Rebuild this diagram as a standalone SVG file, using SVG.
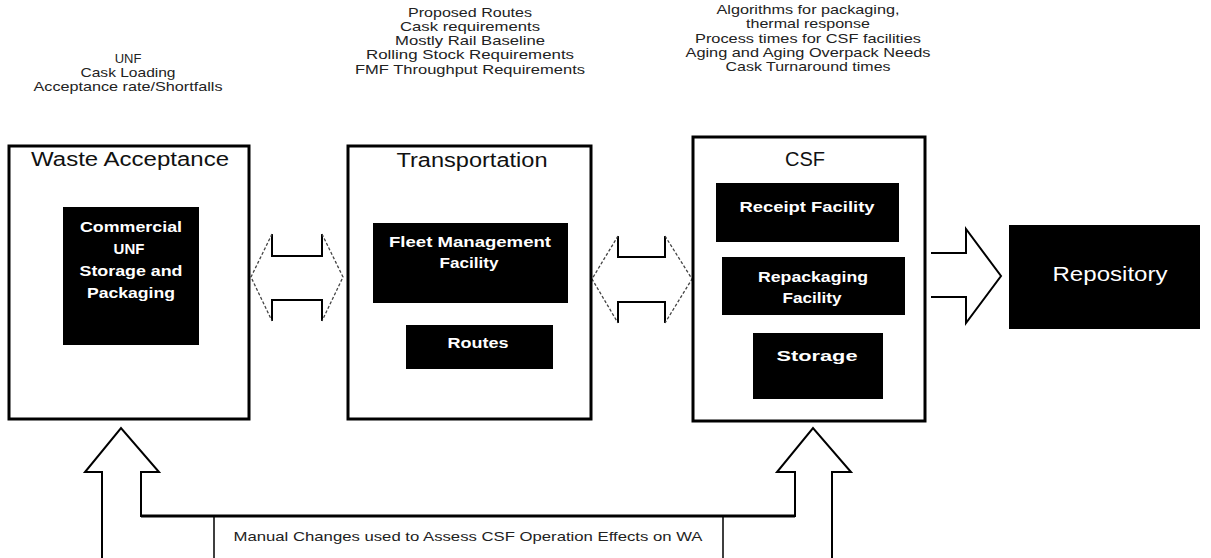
<svg xmlns="http://www.w3.org/2000/svg" width="1211" height="558" viewBox="0 0 1211 558">
<style>
.note{font-family:"Liberation Sans",Arial,sans-serif;font-size:13px;fill:#222;text-anchor:middle}
.title{font-family:"Liberation Sans",Arial,sans-serif;font-size:20px;fill:#111;text-anchor:middle}
.inner{font-family:"Liberation Sans",Arial,sans-serif;font-size:15px;font-weight:bold;fill:#fff;text-anchor:middle}
.frame{fill:#fff;stroke:#000;stroke-width:3}
.blk{fill:#000}
.solid{fill:none;stroke:#000;stroke-width:2}
.dash{fill:none;stroke:#444;stroke-width:1.3;stroke-dasharray:3 2}
</style>
<rect width="1211" height="558" fill="#fff"/>
<g id="notes-wa">
<text class="note" x="128" y="63">UNF</text>
<text class="note" x="128" y="77" textLength="95" lengthAdjust="spacingAndGlyphs">Cask Loading</text>
<text class="note" x="128" y="91" textLength="189" lengthAdjust="spacingAndGlyphs">Acceptance rate/Shortfalls</text>
</g>
<g id="notes-tr">
<text class="note" x="470" y="17" textLength="124" lengthAdjust="spacingAndGlyphs">Proposed Routes</text>
<text class="note" x="470" y="31" textLength="140" lengthAdjust="spacingAndGlyphs">Cask requirements</text>
<text class="note" x="470" y="45" textLength="150" lengthAdjust="spacingAndGlyphs">Mostly Rail Baseline</text>
<text class="note" x="470" y="59" textLength="208" lengthAdjust="spacingAndGlyphs">Rolling Stock Requirements</text>
<text class="note" x="470" y="74" textLength="230" lengthAdjust="spacingAndGlyphs">FMF Throughput Requirements</text>
</g>
<g id="notes-csf">
<text class="note" x="808" y="14" textLength="183" lengthAdjust="spacingAndGlyphs">Algorithms for packaging,</text>
<text class="note" x="808" y="28" textLength="124" lengthAdjust="spacingAndGlyphs">thermal response</text>
<text class="note" x="808" y="43" textLength="226" lengthAdjust="spacingAndGlyphs">Process times for CSF facilities</text>
<text class="note" x="808" y="57" textLength="245" lengthAdjust="spacingAndGlyphs">Aging and Aging Overpack Needs</text>
<text class="note" x="808" y="71" textLength="165" lengthAdjust="spacingAndGlyphs">Cask Turnaround times</text>
</g>
<g id="connectors">
<path class="solid" d="M272,234 L272,256 L322,256 L322,234 M272,321 L272,300 L322,300 L322,321"/>
<path class="dash" d="M272,234 L251,277 L272,321 M322,234 L343,277 L322,321"/>
<path class="solid" d="M618,236 L618,257 L665,257 L665,236 M618,323 L618,302 L665,302 L665,323"/>
<path class="dash" d="M618,236 L592,279 L618,323 M665,236 L692,279 L665,323"/>
<path class="solid" d="M931,253 L966,253 L966,229 L1001,276 L966,323 L966,297 L931,297"/>
<path class="solid" d="M102,560 L102,472 L85,472 L121,428 L159,472 L141,472 L141,516 L795,516 L795,472 L777,472 L813,428 L851,472 L832,472 L832,560"/>
<path d="M141,516 L795,516" stroke="#000" stroke-width="3"/>
</g>
<g id="wa">
<rect class="frame" x="9" y="146" width="240" height="273"/>
<text class="title" x="130" y="166" textLength="198" lengthAdjust="spacingAndGlyphs">Waste Acceptance</text>
<rect class="blk" x="63" y="207" width="136" height="138"/>
<text class="inner" x="131" y="232" textLength="102" lengthAdjust="spacingAndGlyphs">Commercial</text>
<text class="inner" x="129" y="254">UNF</text>
<text class="inner" x="131" y="276" textLength="103" lengthAdjust="spacingAndGlyphs">Storage and</text>
<text class="inner" x="131" y="298" textLength="88" lengthAdjust="spacingAndGlyphs">Packaging</text>
</g>
<g id="transport">
<rect class="frame" x="348" y="146" width="243" height="273"/>
<text class="title" x="472" y="167" textLength="151" lengthAdjust="spacingAndGlyphs">Transportation</text>
<rect class="blk" x="373" y="223" width="195" height="80"/>
<text class="inner" x="470" y="247" textLength="162" lengthAdjust="spacingAndGlyphs">Fleet Management</text>
<text class="inner" x="469" y="268" textLength="59" lengthAdjust="spacingAndGlyphs">Facility</text>
<rect class="blk" x="406" y="325" width="147" height="44"/>
<text class="inner" x="478" y="348" textLength="61" lengthAdjust="spacingAndGlyphs">Routes</text>
</g>
<g id="csf">
<rect class="frame" x="693" y="137" width="232" height="284"/>
<text class="title" x="805" y="166" font-size="21">CSF</text>
<rect class="blk" x="716" y="183" width="183" height="59"/>
<text class="inner" x="807" y="212" textLength="135" lengthAdjust="spacingAndGlyphs">Receipt Facility</text>
<rect class="blk" x="722" y="257" width="183" height="58"/>
<text class="inner" x="813" y="282" textLength="110" lengthAdjust="spacingAndGlyphs">Repackaging</text>
<text class="inner" x="812" y="303" textLength="59" lengthAdjust="spacingAndGlyphs">Facility</text>
<rect class="blk" x="753" y="333" width="130" height="66"/>
<text class="inner" x="817" y="361" font-size="18" textLength="81" lengthAdjust="spacingAndGlyphs">Storage</text>
</g>
<g id="repository">
<rect class="blk" x="1009" y="225" width="191" height="104"/>
<text class="title" x="1110" y="281" fill="#fff" style="fill:#fff" font-size="21" textLength="115" lengthAdjust="spacingAndGlyphs">Repository</text>
</g>
<g id="manual">
<path d="M214,516 L214,560 M723,516 L723,560" stroke="#000" stroke-width="1.5"/>
<text class="note" x="468" y="541" font-size="12" textLength="469" lengthAdjust="spacingAndGlyphs">Manual Changes used to Assess CSF Operation Effects on WA</text>
</g>
</svg>
